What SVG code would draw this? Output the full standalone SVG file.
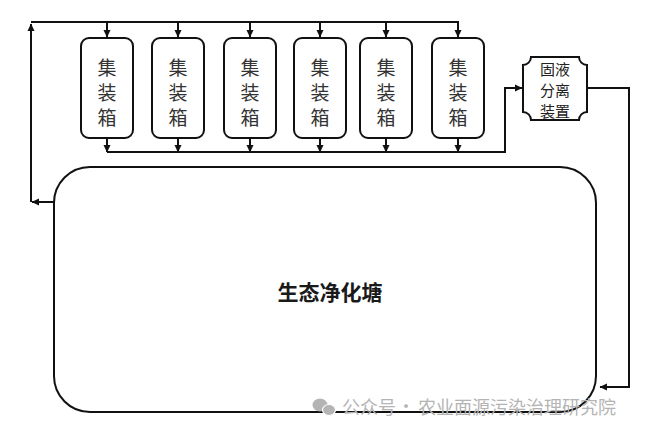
<svg xmlns="http://www.w3.org/2000/svg" width="647" height="434" viewBox="0 0 647 434">
<defs>
<marker id="ah" markerUnits="userSpaceOnUse" markerWidth="8" markerHeight="8" refX="7" refY="4" orient="auto">
<path d="M0,0.5 L7.5,4 L0,7.5 z" fill="#111"/>
</marker>
<style>
.line{fill:none;stroke:#111;stroke-width:2;}
.box{fill:#fff;stroke:#111;stroke-width:2;}
.t{font-family:"Noto Sans CJK SC","Noto Sans CJK JP",sans-serif;fill:#333;text-anchor:middle;}
.bt{font-size:19px;}
.st{font-size:15px;fill:#222;}
.mt{font-size:21px;fill:#1a1a1a;font-weight:bold;}
.wm{font-family:"Noto Sans CJK SC","Noto Sans CJK JP",sans-serif;fill:#b4b4b4;font-size:18px;}
</style>
</defs>
<rect width="647" height="434" fill="#fff"/>

<g id="pond">
<rect class="box" x="54" y="167" width="542" height="245" rx="36" ry="36"/>
<text class="t mt" x="330" y="300">生态净化塘</text>
</g>

<g id="box1"><rect class="box" x="81" y="38" width="52" height="100" rx="8"/>
<text class="t bt" x="107" y="75">集</text><text class="t bt" x="107" y="100">装</text><text class="t bt" x="107" y="125">箱</text></g>
<g id="box2"><rect class="box" x="152" y="38" width="52" height="100" rx="8"/>
<text class="t bt" x="178" y="75">集</text><text class="t bt" x="178" y="100">装</text><text class="t bt" x="178" y="125">箱</text></g>
<g id="box3"><rect class="box" x="224" y="38" width="52" height="100" rx="8"/>
<text class="t bt" x="250" y="75">集</text><text class="t bt" x="250" y="100">装</text><text class="t bt" x="250" y="125">箱</text></g>
<g id="box4"><rect class="box" x="294" y="38" width="52" height="100" rx="8"/>
<text class="t bt" x="320" y="75">集</text><text class="t bt" x="320" y="100">装</text><text class="t bt" x="320" y="125">箱</text></g>
<g id="box5"><rect class="box" x="360" y="38" width="52" height="100" rx="8"/>
<text class="t bt" x="386" y="75">集</text><text class="t bt" x="386" y="100">装</text><text class="t bt" x="386" y="125">箱</text></g>
<g id="box6"><rect class="box" x="432" y="38" width="52" height="100" rx="8"/>
<text class="t bt" x="458" y="75">集</text><text class="t bt" x="458" y="100">装</text><text class="t bt" x="458" y="125">箱</text></g>

<g id="separator">
<path class="box" d="M531,57 H579 A8,8 0 0 0 587,65 V112 A8,8 0 0 0 579,120 H531 A8,8 0 0 0 523,112 V65 A8,8 0 0 0 531,57 Z"/>
<text class="t st" x="555" y="75">固液</text>
<text class="t st" x="555" y="96">分离</text>
<text class="t st" x="555" y="117">装置</text>
</g>

<g id="connectors">
<path class="line" d="M54,202 H32" marker-end="url(#ah)"/>
<path class="line" d="M31,202 V24" marker-end="url(#ah)"/>
<path class="line" d="M31,22 H458 V37" marker-end="url(#ah)"/>
<path class="line" d="M107,22 V37" marker-end="url(#ah)"/>
<path class="line" d="M178,22 V37" marker-end="url(#ah)"/>
<path class="line" d="M250,22 V37" marker-end="url(#ah)"/>
<path class="line" d="M320,22 V37" marker-end="url(#ah)"/>
<path class="line" d="M386,22 V37" marker-end="url(#ah)"/>
<path class="line" d="M107,138 V152" marker-end="url(#ah)"/>
<path class="line" d="M178,138 V152" marker-end="url(#ah)"/>
<path class="line" d="M250,138 V152" marker-end="url(#ah)"/>
<path class="line" d="M320,138 V152" marker-end="url(#ah)"/>
<path class="line" d="M386,138 V152" marker-end="url(#ah)"/>
<path class="line" d="M458,138 V152" marker-end="url(#ah)"/>
<path class="line" d="M107,152 H505 V88 H522" marker-end="url(#ah)"/>
<path class="line" d="M587,88 H629 V387 H600" marker-end="url(#ah)"/>
</g>

<g id="watermark">
<ellipse cx="320" cy="405" rx="7.5" ry="6.5" fill="#b4b4b4"/>
<ellipse cx="329" cy="410" rx="6.5" ry="5.5" fill="#b4b4b4" stroke="#fff" stroke-width="1.2"/>
<text class="wm" x="342" y="414">公众号</text>
<text class="wm" x="406" y="413" text-anchor="middle" font-size="12">·</text>
<text class="wm" x="418" y="414">农业面源污染治理研究院</text>
</g>
</svg>
